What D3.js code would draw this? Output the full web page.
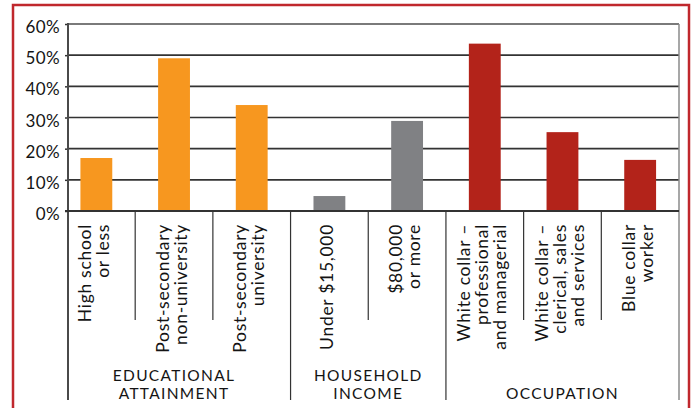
<!DOCTYPE html>
<html>
<head>
<meta charset="utf-8">
<script src="https://cdn.jsdelivr.net/npm/d3@7"></script>
<style>
  html, body { margin: 0; padding: 0; background: #fff; }
  svg { display: block; }
  text { font-family: Lato, "Open Sans", sans-serif; fill: #141414; }
</style>
</head>
<body>
<svg id="chart" width="692" height="408"></svg>
<script>
// ---- data ----
const categories = [
  "High school\nor less",
  "Post-secondary\nnon-university",
  "Post-secondary\nuniversity",
  "Under $15,000",
  "$80,000\nor more",
  "White collar –\nprofessional\nand managerial",
  "White collar –\nclerical, sales\nand services",
  "Blue collar\nworker"
];
const values = [17, 49, 34, 4.8, 28.9, 53.7, 25.3, 16.4];
const groupOf = [0, 0, 0, 1, 1, 2, 2, 2];
const groups = ["EDUCATIONAL\nATTAINMENT", "HOUSEHOLD\nINCOME", "OCCUPATION"];
const groupColors = ["#F7971F", "#808184", "#B3231A"];
const yTicks = [0, 10, 20, 30, 40, 50, 60];

// ---- layout ----
const svg = d3.select("#chart");
const axisX = 68, plotRight = 679, plotTop = 24, plotBottom = 211;
const shortBottom = 320, longBottom = 400;

const x = d3.scaleBand().domain(d3.range(categories.length)).range([57.5, plotRight]).padding(0);
const y = d3.scaleLinear().domain([0, 60]).range([plotBottom, plotTop]);
const barW = x.bandwidth() * 0.41;

// frame
svg.append("rect").attr("x", 13).attr("y", 5).attr("width", 676).attr("height", 420)
  .attr("fill", "none").attr("stroke", "#C0282D").attr("stroke-width", 2.5);

// gridlines
svg.append("g").selectAll("line").data(yTicks.filter(t => t > 0)).join("line")
  .attr("x1", axisX).attr("x2", plotRight)
  .attr("y1", d => y(d)).attr("y2", d => y(d))
  .attr("stroke", d => d === 60 ? "#7a7a7a" : "#333")
  .attr("stroke-width", d => d === 60 ? 2 : 1.6);

// right edge
svg.append("line").attr("x1", plotRight).attr("x2", plotRight).attr("y1", plotTop).attr("y2", longBottom)
  .attr("stroke", "#8a8a8a").attr("stroke-width", 1.5);

// bars
svg.append("g").selectAll("rect").data(values).join("rect")
  .attr("x", (d, i) => x(i) + x.bandwidth() / 2 - barW / 2)
  .attr("width", barW)
  .attr("y", d => y(d))
  .attr("height", d => y(0) - y(d))
  .attr("fill", (d, i) => groupColors[groupOf[i]]);

// y axis
const yAxis = d3.axisLeft(y).tickValues(yTicks).tickFormat(d => d + "%").tickSize(3).tickPadding(5);
const ya = svg.append("g").attr("transform", `translate(${axisX},0)`).call(yAxis);
ya.select(".domain").remove();
ya.selectAll(".tick line").attr("stroke", "#333").attr("stroke-width", 1.5);
ya.selectAll(".tick text").attr("font-size", 17).attr("dy", "0.5em")
  .style("letter-spacing", "0.4px").attr("fill", "#141414").attr("font-family", "Lato");
svg.append("line").attr("x1", axisX).attr("x2", axisX).attr("y1", plotTop - 1).attr("y2", longBottom)
  .attr("stroke", "#4a4a4a").attr("stroke-width", 2);

// baseline
svg.append("line").attr("x1", axisX - 3).attr("x2", plotRight).attr("y1", y(0)).attr("y2", y(0))
  .attr("stroke", "#333").attr("stroke-width", 2);

// separators between categories
const bounds = d3.range(1, categories.length).map(i => ({
  x: x(i), long: groupOf[i] !== groupOf[i - 1]
}));
svg.append("g").selectAll("line").data(bounds).join("line")
  .attr("x1", d => d.x).attr("x2", d => d.x)
  .attr("y1", y(0)).attr("y2", d => d.long ? longBottom : shortBottom)
  .attr("stroke", "#333").attr("stroke-width", 1.2);

// category labels (rotated)
const lineH = 18;
const cl = svg.append("g").selectAll("g").data(categories).join("g")
  .attr("transform", (d, i) => `translate(${x(i) + x.bandwidth() / 2},224) rotate(-90)`);
cl.each(function (d) {
  const lines = d.split("\n");
  const t = d3.select(this).append("text").attr("text-anchor", "end")
    .attr("font-size", 17.5).style("letter-spacing", "0.7px");
  lines.forEach((ln, j) => {
    t.append("tspan").attr("x", 0).attr("y", (j - (lines.length - 1) / 2) * lineH + 3.5).text(ln);
  });
});

// group labels
const gSpan = groups.map((g, gi) => {
  const idx = d3.range(categories.length).filter(i => groupOf[i] === gi);
  return (x(idx[0]) + x(idx[idx.length - 1]) + x.bandwidth()) / 2;
});
groups.forEach((g, gi) => {
  const lines = g.split("\n");
  lines.forEach((ln, j) => {
    svg.append("text").attr("text-anchor", "middle")
      .attr("font-size", 15.5).style("letter-spacing", "1.3px")
      .attr("x", gSpan[gi]).attr("y", 399.3 - (lines.length - 1 - j) * 18.8).text(ln);
  });
});
</script>
</body>
</html>
